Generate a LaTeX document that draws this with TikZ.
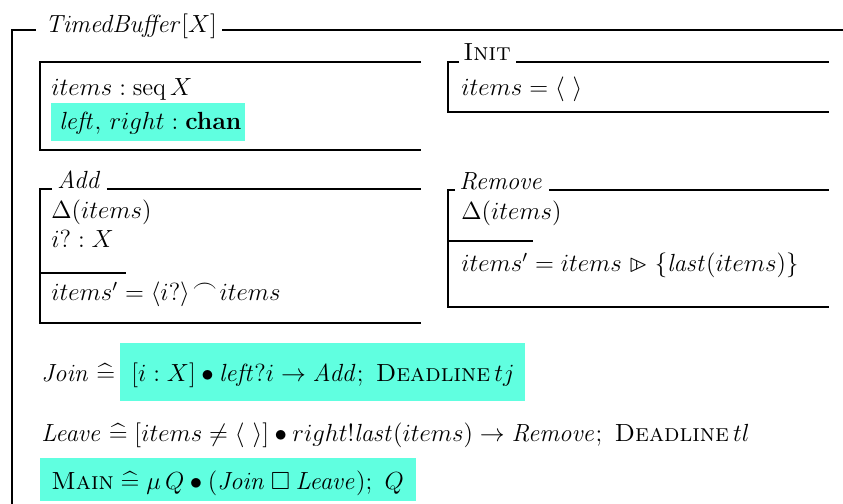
\documentclass[tikz,border=0pt]{standalone}
\usepackage{amssymb}
\definecolor{hl}{RGB}{96,255,224}
% Z notation operators
\newcommand{\zdefs}{\mathrel{\widehat=}}
\newcommand{\zcat}{\mathord{\mkern2mu\raise 0.7ex\hbox{$\frown$}\mkern2mu}}
\newcommand{\znrres}{\mathrel{\ooalign{\hfil$\mapstochar\mkern5mu$\hfil\cr$\vartriangleright$}}}
\newcommand{\zfont}{\fontsize{12}{15}\selectfont}
\begin{document}
\begin{tikzpicture}[x=0.484pt,y=-0.484pt,
  frame/.style={line width=1.35pt},
  zbox/.style={line width=1.15pt},
  ztext/.style={anchor=base west,inner sep=0pt,font=\zfont},
  hlbox/.style={fill=hl}]
\useasboundingbox (0,0) rectangle (843,504);

% highlighted regions
\fill[hlbox] (51,103) rectangle (245,141);
\fill[hlbox] (120,343) rectangle (525,401);
\fill[hlbox] (40,458) rectangle (416,501);

% outer frame of the process
\coordinate (fTL) at (12,30);
\coordinate (fBL) at (12,504);
\coordinate (fTR) at (843,30);
\node[ztext] (tTimed) at (45,33) {$\mathit{TimedBuffer}[X]$};
\coordinate (tTimedE) at ([xshift=2.4pt]tTimed.east);
\draw[frame] (fBL) -- (fTL) -- (36,30);
\draw[frame] (tTimedE |- fTL) -- (fTR);

% state schema
\coordinate (sTL) at (40,62);
\coordinate (sBL) at (40,150);
\draw[zbox] (421,62) -- (sTL) -- (sBL) -- (421,150);
\node[ztext] (s1) at (51,96) {$items : \mathop{\mathrm{seq}} X$};
\node[ztext] (s2) at (59,129) {$\mathit{left},\, right : \mathbf{chan}$};

% Init schema
\coordinate (iTL) at (448,62);
\node[ztext] (tInit) at (463,61) {\textsc{Init}};
\coordinate (tInitE) at ([xshift=2.4pt]tInit.east);
\draw[zbox] (459,62) -- (iTL) -- (448,112) -- (829,112);
\draw[zbox] (tInitE |- iTL) -- (829,62);
\node[ztext] (i1) at (461,96) {$items = \langle\ \rangle$};

% Add schema
\coordinate (aTL) at (40,189);
\node[ztext] (tAdd) at (57,188) {$\mathit{Add}$};
\coordinate (tAddE) at ([xshift=2.4pt]tAdd.east);
\draw[zbox] (52,189) -- (aTL) -- (40,323) -- (421,323);
\draw[zbox] (tAddE |- aTL) -- (421,189);
\draw[zbox] (40,273) -- (126,273);
\node[ztext] (a1) at (51,218) {$\Delta(items)$};
\node[ztext] (a2) at (51,247) {$i? : X$};
\node[ztext] (a3) at (51,300) {$items' = \langle i? \rangle \zcat items$};

% Remove schema
\coordinate (rTL) at (448,190);
\node[ztext] (tRem) at (459,189) {$\mathit{Remove}$};
\coordinate (tRemE) at ([xshift=2.4pt]tRem.east);
\draw[zbox] (455,190) -- (rTL) -- (448,307) -- (829,307);
\draw[zbox] (tRemE |- rTL) -- (829,190);
\draw[zbox] (448,241) -- (533,241);
\node[ztext] (r1) at (461,219) {$\Delta(items)$};
\node[ztext] (r2) at (461,271) {$items' = items \znrres \{\mathit{last}(items)\}$};

% process definitions
\node[ztext] (pJoin) at (41,381) {$\mathit{Join} \zdefs$};
\node[ztext] (pJoinB) at (131,381) {$[i : X] \bullet \mathit{left}?i \rightarrow \mathit{Add};~\textsc{Deadline}\, tj$};
\node[ztext] (pLeave) at (41,441) {$\mathit{Leave} \zdefs [items \neq \langle\ \rangle] \bullet right!\mathit{last}(items) \rightarrow \mathit{Remove};~\textsc{Deadline}\, tl$};
\node[ztext] (pMain) at (51,489) {$\textsc{Main} \zdefs \mu\, Q \bullet (\mathit{Join} \mathbin{\Box} \mathit{Leave});~ Q$};
\end{tikzpicture}
\end{document}
